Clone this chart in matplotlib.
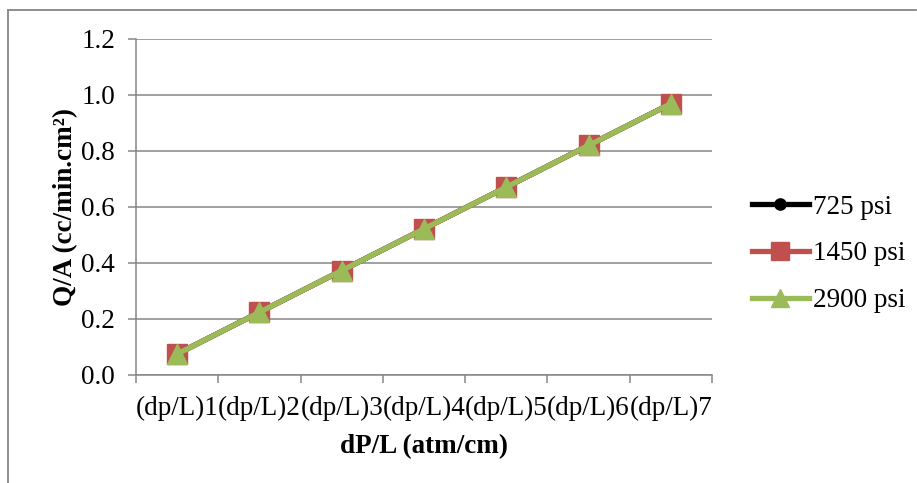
import matplotlib
matplotlib.use("Agg")
import matplotlib.pyplot as plt
from matplotlib.lines import Line2D
import numpy as np

# Data
categories = ["(dp/L)1", "(dp/L)2", "(dp/L)3", "(dp/L)4", "(dp/L)5", "(dp/L)6", "(dp/L)7"]
flux_725 = [0.075, 0.224, 0.373, 0.522, 0.671, 0.820, 0.969]
flux_1450 = [0.075, 0.224, 0.373, 0.522, 0.671, 0.820, 0.969]
flux_2900 = [0.075, 0.224, 0.373, 0.522, 0.671, 0.820, 0.969]
series_labels = ["725 psi", "1450 psi", "2900 psi"]
y_ticks = [0.0, 0.2, 0.4, 0.6, 0.8, 1.0, 1.2]

plt.rcParams["font.family"] = ["Liberation Serif", "DejaVu Serif"]
FS = 19.5
GRID = "#868686"

W, H = 917, 483
fig = plt.figure(figsize=(W / 100, H / 100), dpi=100)
ax = fig.add_axes([136 / W, 1 - 375 / H, (712 - 136) / W, (375 - 39) / H])

x = np.arange(len(categories))
ax.plot(x, flux_725, color="black", lw=3.8, marker="o", ms=9, label=series_labels[0], zorder=3)
ax.plot(x, flux_1450, color="#C0504D", lw=3.8, marker="s", ms=14.5, label=series_labels[1], zorder=4)
ax.plot(x, flux_2900, color="#9BBB59", lw=3.8, marker="^", ms=15, label=series_labels[2], zorder=5)

ax.set_xlim(-0.5, len(categories) - 0.5)
ax.set_ylim(0, 1.2)
ax.set_yticks(y_ticks)
ax.set_yticklabels([f"{v:.1f}" for v in y_ticks], fontsize=FS)
ax.set_xticks(x)
ax.set_xticklabels(categories, fontsize=FS)
ax.set_xticks(np.arange(-0.5, len(categories)), minor=True)

ax.tick_params(axis="x", which="major", length=0, pad=15)
ax.tick_params(axis="x", which="minor", length=6, width=1.1, color=GRID, direction="out")
ax.tick_params(axis="y", which="major", length=6, width=1.1, color=GRID, direction="out", pad=9)

ax.yaxis.grid(True, color=GRID, lw=1.1)
ax.set_axisbelow(True)
for side in ("top", "right"):
    ax.spines[side].set_visible(False)
for side in ("left", "bottom"):
    ax.spines[side].set_color(GRID)
    ax.spines[side].set_linewidth(1.1)

ax.set_xlabel("dP/L (atm/cm)", fontsize=FS, fontweight="bold")
ax.xaxis.set_label_coords(0.5, -0.177)
ax.set_ylabel("Q/A (cc/min.cm²)", fontsize=FS, fontweight="bold")
ax.yaxis.set_label_coords(-0.100, 0.5)

leg = ax.legend(loc="center left", bbox_to_anchor=(752 / W, 1 - 254 / H),
                bbox_transform=fig.transFigure, frameon=False, fontsize=FS,
                handlelength=2.1, handletextpad=0.15, labelspacing=0.8,
                markerscale=0.9, borderpad=0, borderaxespad=0)

# Chart frame
fig.add_artist(Line2D([8 / W, 8 / W], [0, 1 - 10 / H], color=GRID, lw=1.3))
fig.add_artist(Line2D([8 / W, 916 / W], [1 - 10 / H, 1 - 10 / H], color=GRID, lw=1.3))

fig.savefig("out.png", dpi=100)
